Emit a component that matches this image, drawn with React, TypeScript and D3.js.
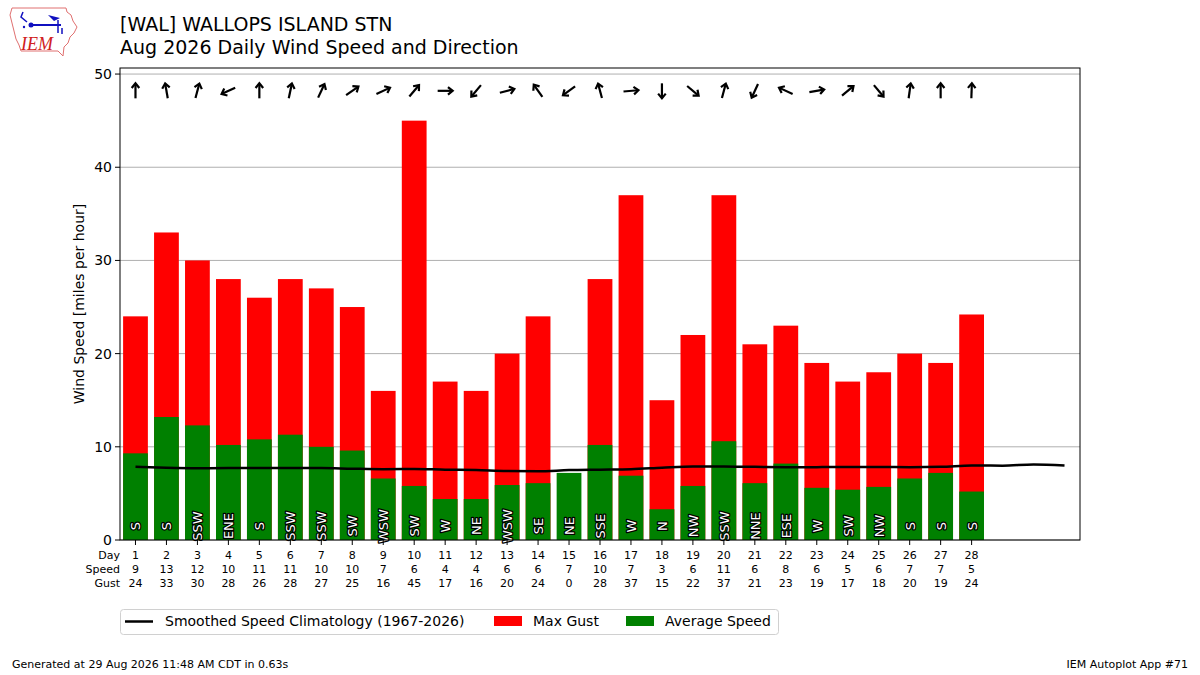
import * as d3 from "d3";

const days = [1, 2, 3, 4, 5, 6, 7, 8, 9, 10, 11, 12, 13, 14, 15, 16, 17, 18, 19, 20, 21, 22, 23, 24, 25, 26, 27, 28];
const avgSpeed = [9.3, 13.2, 12.3, 10.2, 10.8, 11.3, 10.0, 9.6, 6.6, 5.8, 4.4, 4.4, 5.9, 6.1, 7.2, 10.2, 6.9, 3.3, 5.8, 10.6, 6.1, 8.2, 5.6, 5.4, 5.7, 6.6, 7.2, 5.2];
const maxGust = [24, 33, 30, 28, 26, 28, 27, 25, 16, 45, 17, 16, 20, 24, 0, 28, 37, 15, 22, 37, 21, 23, 19, 17, 18, 20, 19, 24.2];
const dirLabels = ["S", "S", "SSW", "ENE", "S", "SSW", "SSW", "SW", "WSW", "SW", "W", "NE", "WSW", "SE", "NE", "SSE", "W", "N", "NW", "SSW", "NNE", "ESE", "W", "SW", "NW", "S", "S", "S"];
// direction the wind blows from, degrees
const dirDeg = [180, 170, 195, 65, 180, 192, 205, 235, 245, 220, 270, 40, 255, 145, 54, 165, 265, 0, 310, 195, 25, 115, 260, 230, 320, 188, 180, 182];
const climoDays = [1, 2, 3, 4, 5, 6, 7, 8, 9, 10, 11, 12, 13, 14, 15, 16, 17, 18, 19, 20, 21, 22, 23, 24, 25, 26, 27, 28, 29, 30, 31];
const climoSpeed = [7.85, 7.75, 7.7, 7.72, 7.72, 7.72, 7.72, 7.65, 7.6, 7.62, 7.55, 7.5, 7.4, 7.38, 7.5, 7.55, 7.6, 7.75, 7.88, 7.9, 7.85, 7.82, 7.82, 7.84, 7.84, 7.82, 7.85, 8.0, 7.98, 8.1, 8.0];
const yTicks = [0, 10, 20, 30, 40, 50];

const W = 1200;
const H = 675;
const left = 120;
const right = 1080;
const top = 68;
const bottom = 540;
const font = "DejaVu Sans, sans-serif";

export default function App() {
  const x = d3.scaleLinear().domain([0.5, 31.5]).range([left, right]);
  const y = d3.scaleLinear().domain([0, 50.65]).range([bottom, top]);
  const bw = x(1.4) - x(0.6);
  const fmt = d3.format(".0f");

  const climoLine = d3
    .line<number>()
    .x((_, i) => x(climoDays[i]))
    .y((d) => y(d))
    .curve(d3.curveMonotoneX)(climoSpeed);

  return (
    <svg
      width={W}
      height={H}
      style={{ position: "absolute", left: 0, top: 0, background: "#fff" }}
      fontFamily={font}
    >
      {/* logo */}
      <g>
        <path
          d="M12,8 L66,8 L67,12 L71,15 L73,21 L77,27 L74,33 L70,37 L68,43 L64,47 L63,56 L58,51 L21,51 L19,45 L16,39 L14,31 L12,23 L10,15 Z"
          fill="none"
          stroke="#e07070"
          strokeWidth={1}
        />
        <path d="M23,12 L21,17 L27,22" fill="none" stroke="#1010c0" strokeWidth={1.5} />
        <line x1={30} y1={25} x2={61} y2={25} stroke="#1010c0" strokeWidth={2} />
        <circle cx={31} cy={25} r={2.5} fill="#1010c0" />
        <circle cx={24} cy={27} r={1.2} fill="#1010c0" />
        <path d="M48,15 L60,18 L54,21 Z" fill="#1010c0" />
        <path d="M58,20 L58,33 M62,28 L62,34" stroke="#1010c0" strokeWidth={1.5} />
        <text x={21} y={50} fill="#d02020" fontFamily="Liberation Serif, serif" fontStyle="italic" fontSize={18}>
          IEM
        </text>
      </g>

      {/* titles */}
      <text x={120} y={31} fontSize={19}>
        [WAL] WALLOPS ISLAND STN
      </text>
      <text x={120} y={54} fontSize={19}>
        Aug 2026 Daily Wind Speed and Direction
      </text>

      {/* grid */}
      {yTicks.map((t) => (
        <line key={`g${t}`} x1={left} x2={right} y1={y(t)} y2={y(t)} stroke="#b0b0b0" strokeWidth={1} />
      ))}

      {/* bars */}
      {days.map((d, i) => (
        <g key={`b${d}`}>
          <rect x={x(d) - bw / 2} width={bw} y={y(maxGust[i])} height={y(0) - y(maxGust[i])} fill="#ff0000" />
          <rect x={x(d) - bw / 2} width={bw} y={y(avgSpeed[i])} height={y(0) - y(avgSpeed[i])} fill="#008000" />
        </g>
      ))}

      {/* direction labels on bars */}
      {days.map((d, i) => (
        <text
          key={`l${d}`}
          transform={`translate(${x(d) + 5},${y(1.5)}) rotate(-90)`}
          textAnchor="middle"
          fontSize={13}
          fill="#fff"
          stroke="#000"
          strokeWidth={2.5}
          paintOrder="stroke"
          strokeLinejoin="round"
        >
          {dirLabels[i]}
        </text>
      ))}

      {/* climatology */}
      <path d={climoLine ?? ""} fill="none" stroke="#000" strokeWidth={2.5} />

      {/* arrows */}
      {days.map((d, i) => (
        <g key={`a${d}`} transform={`translate(${x(d)},${y(48.2)}) rotate(${dirDeg[i] + 180})`}>
          <line x1={0} y1={7.5} x2={0} y2={-7} stroke="#000" strokeWidth={2.2} />
          <polyline points="-3.8,-2.8 0,-7.5 3.8,-2.8" fill="none" stroke="#000" strokeWidth={2.2} />
        </g>
      ))}

      {/* frame */}
      <rect x={left} y={top} width={right - left} height={bottom - top} fill="none" stroke="#000" strokeWidth={1} />

      {/* y axis */}
      {yTicks.map((t) => (
        <g key={`yt${t}`}>
          <line x1={left - 5} x2={left} y1={y(t)} y2={y(t)} stroke="#000" />
          <text x={left - 8} y={y(t)} dy="0.35em" textAnchor="end" fontSize={14}>
            {t}
          </text>
        </g>
      ))}
      <text transform={`translate(84,${(top + bottom) / 2}) rotate(-90)`} textAnchor="middle" fontSize={14}>
        Wind Speed [miles per hour]
      </text>

      {/* x axis table */}
      {days.map((d, i) => (
        <g key={`xt${d}`}>
          <line x1={x(d)} x2={x(d)} y1={bottom} y2={bottom + 5} stroke="#000" />
          <text x={x(d)} y={559} textAnchor="middle" fontSize={11}>
            {d}
          </text>
          <text x={x(d)} y={573} textAnchor="middle" fontSize={11}>
            {fmt(avgSpeed[i])}
          </text>
          <text x={x(d)} y={587} textAnchor="middle" fontSize={11}>
            {fmt(maxGust[i])}
          </text>
        </g>
      ))}
      <text x={left} y={559} textAnchor="end" fontSize={11}>
        Day
      </text>
      <text x={left} y={573} textAnchor="end" fontSize={11}>
        Speed
      </text>
      <text x={left} y={587} textAnchor="end" fontSize={11}>
        Gust
      </text>

      {/* legend */}
      <rect x={120.5} y={609.5} width={658} height={25} rx={3} fill="#fff" stroke="#d0d0d0" />
      <line x1={125} x2={153} y1={621.5} y2={621.5} stroke="#000" strokeWidth={2.5} />
      <text x={165} y={626} fontSize={14}>
        Smoothed Speed Climatology (1967-2026)
      </text>
      <rect x={494} y={616} width={28} height={10} fill="#ff0000" />
      <text x={533} y={626} fontSize={14}>
        Max Gust
      </text>
      <rect x={626} y={616} width={28} height={10} fill="#008000" />
      <text x={665} y={626} fontSize={14}>
        Average Speed
      </text>

      {/* footer */}
      <text x={12} y={668} fontSize={11}>
        Generated at 29 Aug 2026 11:48 AM CDT in 0.63s
      </text>
      <text x={1188} y={668} textAnchor="end" fontSize={11}>
        IEM Autoplot App #71
      </text>
    </svg>
  );
}
